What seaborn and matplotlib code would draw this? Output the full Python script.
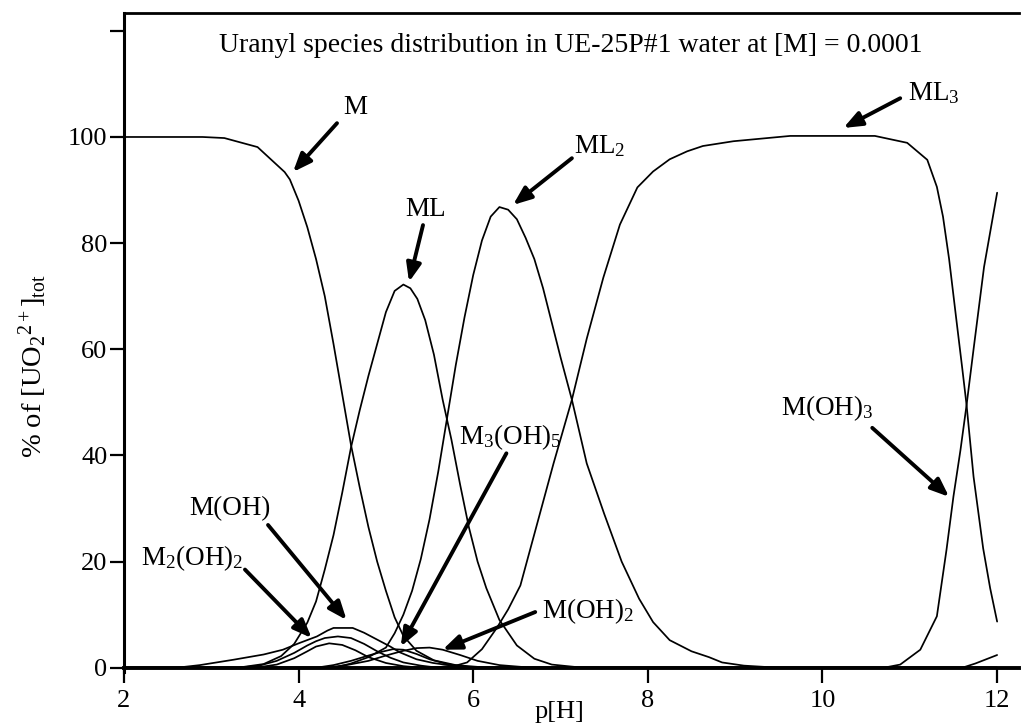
import matplotlib
matplotlib.use("Agg")
import matplotlib.pyplot as plt
import seaborn as sns
import pandas as pd

# ---- speciation data: pH vs percent of total uranyl ----
ph_M = [2.0, 2.9, 3.15, 3.53, 3.84, 3.9, 4.0, 4.1, 4.2, 4.3, 4.4, 4.5, 4.6, 4.7, 4.8, 4.9,
        5.0, 5.1, 5.2, 5.35, 5.55, 5.8, 6.1, 6.5, 12.0]
pct_M = [100, 100, 99.8, 98.1, 93.4, 92, 88, 83, 77, 70, 61, 51.5, 42, 34, 26.5, 20,
         14.5, 9.5, 6, 3.2, 1.4, 0.5, 0.1, 0, 0]

ph_ML = [2.0, 3.3, 3.6, 3.8, 3.95, 4.1, 4.2, 4.3, 4.4, 4.5, 4.6, 4.7, 4.8, 4.9, 5.0, 5.1,
         5.2, 5.28, 5.36, 5.45, 5.55, 5.65, 5.75, 5.85, 5.95, 6.05, 6.15, 6.3, 6.5, 6.7,
         6.9, 7.2, 7.5, 12.0]
pct_ML = [0, 0, 0.7, 2.2, 4.5, 8.5, 12.5, 18.5, 25, 33, 41.5, 48.5, 55, 61, 67, 71,
          72.2, 71.5, 69.5, 65.5, 59, 50.5, 43, 34.5, 26.5, 20, 15, 9, 4.2, 1.7,
          0.6, 0.1, 0, 0]

ph_ML2 = [2.0, 4.4, 4.6, 4.8, 5.0, 5.1, 5.2, 5.3, 5.4, 5.5, 5.6, 5.7, 5.8, 5.9, 6.0, 6.1,
          6.2, 6.3, 6.4, 6.5, 6.6, 6.7, 6.8, 6.9, 7.0, 7.13, 7.3, 7.5, 7.7, 7.9, 8.06,
          8.25, 8.5, 8.7, 8.85, 9.1, 9.5, 12.0]
pct_ML2 = [0, 0, 0.8, 2, 3.8, 6.5, 10, 14.5, 20.5, 28, 37, 47, 57, 66, 74, 80.5,
           85, 86.8, 86.3, 84.5, 81, 77, 71.5, 65, 58.5, 50.5, 38.5, 29, 20, 13, 8.6,
           5.2, 3.1, 2.0, 1.0, 0.4, 0, 0]

ph_ML3 = [2.0, 5.5, 5.8, 5.93, 6.1, 6.27, 6.4, 6.54, 6.73, 6.92, 7.13, 7.3, 7.49, 7.68,
          7.88, 8.06, 8.25, 8.45, 8.63, 8.98, 9.37, 9.63, 10.6, 10.97, 11.2, 11.31,
          11.38, 11.45, 11.53, 11.6, 11.65, 11.73, 11.84, 11.92, 12.0]
pct_ML3 = [0, 0, 0.4, 1, 3.5, 7.5, 11, 15.5, 27, 38.5, 50.5, 62, 73.5, 83.5,
           90.5, 93.5, 95.8, 97.3, 98.3, 99.2, 99.8, 100.2, 100.2, 98.9, 95.7, 90.6,
           85, 77, 66, 56.5, 49.5, 36, 22.5, 15, 8.7]

ph_MOH3 = [2.0, 10.7, 10.89, 11.12, 11.31, 11.42, 11.5, 11.58, 11.65, 11.73, 11.85, 12.0]
pct_MOH3 = [0, 0, 0.6, 3.4, 9.7, 22.2, 32.3, 41, 49.5, 60, 75.5, 89.5]

ph_MOH = [2.0, 2.6, 2.87, 3.25, 3.6, 3.82, 4.0, 4.21, 4.33, 4.4, 4.62, 4.75, 4.9, 5.05,
          5.16, 5.35, 5.54, 5.8, 6.1, 12.0]
pct_MOH = [0, 0, 0.5, 1.5, 2.5, 3.4, 4.6, 5.9, 7.0, 7.5, 7.5, 6.6, 5.3, 4.0,
           2.9, 1.6, 0.9, 0.3, 0, 0]

ph_M2OH2 = [2.0, 3.3, 3.55, 3.75, 3.95, 4.1, 4.2, 4.3, 4.45, 4.6, 4.75, 4.9, 5.05, 5.2,
            5.4, 5.6, 12.0]
pct_M2OH2 = [0, 0, 0.4, 1.3, 2.8, 4.2, 5.0, 5.6, 5.9, 5.6, 4.5, 3.1, 1.9, 1.0,
             0.4, 0, 0]

ph_M3OH5 = [2.0, 4.2, 4.4, 4.6, 4.8, 4.95, 5.08, 5.2, 5.35, 5.5, 5.7, 5.9, 6.1, 12.0]
pct_M3OH5 = [0, 0, 0.5, 1.3, 2.3, 3.0, 3.5, 3.4, 2.6, 1.6, 0.7, 0.2, 0, 0]

ph_MOH2 = [2.0, 4.3, 4.55, 4.8, 5.0, 5.2, 5.35, 5.5, 5.65, 5.85, 6.05, 6.3, 6.6, 6.9, 12.0]
pct_MOH2 = [0, 0, 0.5, 1.3, 2.3, 3.2, 3.7, 3.8, 3.4, 2.4, 1.3, 0.5, 0.1, 0, 0]

ph_M2OH3L = [2.0, 3.5, 3.75, 3.95, 4.1, 4.2, 4.35, 4.5, 4.65, 4.8, 5.0, 5.2, 5.4, 12.0]
pct_M2OH3L = [0, 0, 0.6, 1.8, 3.1, 4.0, 4.6, 4.3, 3.3, 2.0, 0.9, 0.3, 0, 0]

ph_MOH4 = [2.0, 11.6, 11.75, 12.0]
pct_MOH4 = [0, 0, 0.8, 2.4]

series = {
    "M": (ph_M, pct_M),
    "ML": (ph_ML, pct_ML),
    "ML2": (ph_ML2, pct_ML2),
    "ML3": (ph_ML3, pct_ML3),
    "M(OH)3": (ph_MOH3, pct_MOH3),
    "M(OH)": (ph_MOH, pct_MOH),
    "M2(OH)2": (ph_M2OH2, pct_M2OH2),
    "M3(OH)5": (ph_M3OH5, pct_M3OH5),
    "M(OH)2": (ph_MOH2, pct_MOH2),
    "M2(OH)3L": (ph_M2OH3L, pct_M2OH3L),
    "M(OH)4": (ph_MOH4, pct_MOH4),
}

frames = [pd.DataFrame({"pH": x, "pct": y, "species": name})
          for name, (x, y) in series.items()]
df = pd.concat(frames, ignore_index=True)

# ---- labels with arrows: (text, text position, arrow tail, arrow head) ----
label_text = ["M", "ML", "ML$_2$", "ML$_3$", "M(OH)$_3$", "M$_3$(OH)$_5$",
              "M(OH)$_2$", "M(OH)", "M$_2$(OH)$_2$"]
label_pos = [(4.646, 105.5), (5.45, 86.3), (7.45, 98.3), (11.28, 108.3), (10.05, 49.0),
             (6.42, 43.5), (7.31, 10.7), (3.21, 29.9), (2.78, 20.7)]
arrow_tail = [(4.44, 102.6), (5.425, 83.4), (7.13, 96.0), (10.89, 107.3), (10.57, 45.2),
              (6.38, 40.4), (6.71, 10.5), (3.65, 26.9), (3.386, 18.5)]
arrow_head = [(3.936, 93.4), (5.265, 72.7), (6.456, 87.2), (10.24, 101.7), (11.45, 32.2),
              (5.17, 4.0), (5.65, 3.4), (4.55, 9.0), (4.15, 5.6)]

x_ticks = [2, 4, 6, 8, 10, 12]
y_ticks = [0, 20, 40, 60, 80, 100, 120]
y_tick_labels = ["0", "20", "40", "60", "80", "100", ""]

title_text = "Uranyl species distribution in UE-25P#1 water at [M] = 0.0001"

# ---- styling ----
sns.set_theme(style="white")
plt.rcParams["font.family"] = ["Liberation Serif", "DejaVu Serif"]
plt.rcParams["mathtext.fontset"] = "custom"
plt.rcParams["mathtext.rm"] = "Liberation Serif"
plt.rcParams["mathtext.it"] = "Liberation Serif:italic"
plt.rcParams["mathtext.bf"] = "Liberation Serif:bold"
plt.rcParams["text.color"] = "black"
plt.rcParams["axes.labelcolor"] = "black"
plt.rcParams["xtick.color"] = "black"
plt.rcParams["ytick.color"] = "black"

FS = 19.5

fig = plt.figure(figsize=(10.21, 7.25), dpi=100)
ax = fig.add_axes([0.1214, 0.0731, 0.8766, 0.9089])

sns.lineplot(data=df, x="pH", y="pct", units="species", estimator=None, sort=False,
             color="black", linewidth=1.25, ax=ax, legend=False)

ax.set_xlim(2, 12.25)
ax.set_ylim(-0.8, 123.35)

ax.spines["right"].set_visible(False)
ax.spines["top"].set_linewidth(2.0)
ax.spines["left"].set_linewidth(2.2)
ax.spines["bottom"].set_position(("data", 0))
ax.spines["bottom"].set_linewidth(2.8)
for s in ax.spines.values():
    s.set_color("black")

ax.set_xticks(x_ticks)
ax.set_xticklabels([str(t) for t in x_ticks])
ax.set_yticks(y_ticks)
ax.set_yticklabels(y_tick_labels)
ax.tick_params(axis="x", direction="out", length=11, width=1.6, pad=5,
               labelsize=19, colors="black", bottom=True)
ax.tick_params(axis="y", direction="out", length=10, width=1.6, pad=2,
               labelsize=19, colors="black", left=True)

ax.set_xlabel("p[H]", fontsize=19)
ax.xaxis.set_label_coords(0.487, -0.061)
ax.xaxis.label.set_va("center")
ax.set_ylabel(r"% of [UO$_2$$^{2+}$]$_{\mathrm{tot}}$", fontsize=20.5)
ax.yaxis.set_label_coords(-0.1017, 0.464)
ax.yaxis.label.set_va("center")

ax.text(0.4994, 117.3, title_text, transform=ax.get_yaxis_transform(),
        ha="center", va="center", fontsize=20)

for txt, pos, tail, head in zip(label_text, label_pos, arrow_tail, arrow_head):
    ax.text(pos[0], pos[1], txt, ha="center", va="center", fontsize=FS)
    ax.annotate("", xy=head, xytext=tail,
                arrowprops=dict(arrowstyle="-|>,head_length=0.55,head_width=0.22",
                                lw=2.8, color="black", mutation_scale=20,
                                shrinkA=0, shrinkB=0))

fig.savefig("out.png", dpi=100, facecolor="white")
